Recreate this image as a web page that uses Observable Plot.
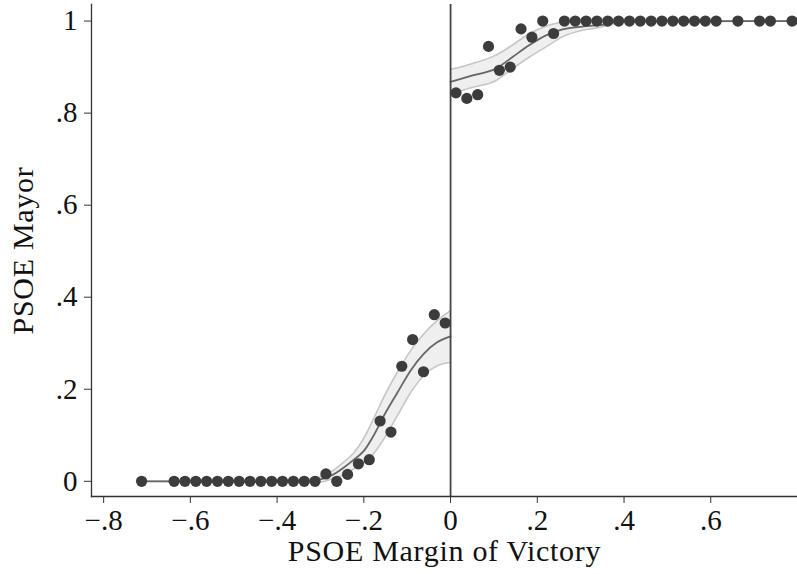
<!DOCTYPE html>
<html><head><meta charset="utf-8">
<script src="https://cdn.jsdelivr.net/npm/d3@7"></script>
<script src="https://cdn.jsdelivr.net/npm/@observablehq/plot@0.6"></script>
<style>html,body{margin:0;padding:0;background:#fff} svg{display:block}
g[aria-label="x-axis label"] text, g[aria-label="y-axis label"] text {letter-spacing: 0.7px; font-size: 30px;}
</style>
</head><body><div id="chart"></div>
<script>
// Binned means (bin midpoints on margin of victory)
const binX = [-0.7125, -0.6375, -0.6125, -0.5875, -0.5625, -0.5375, -0.5125, -0.4875, -0.4625, -0.4375, -0.4125, -0.3875, -0.3625, -0.3375, -0.3125,
  -0.2875, -0.2625, -0.2375, -0.2125, -0.1875, -0.1625, -0.1375, -0.1125, -0.0875, -0.0625, -0.0375, -0.0125,
  0.0125, 0.0375, 0.0625, 0.0875, 0.1125, 0.1375, 0.1625, 0.1875, 0.2125, 0.2375,
  0.2625, 0.2875, 0.3125, 0.3375, 0.3625, 0.3875, 0.4125, 0.4375, 0.4625, 0.4875, 0.5125, 0.5375, 0.5625, 0.5875, 0.6125, 0.6625, 0.7125, 0.7375, 0.7875];
const binY = [0, 0, 0, 0, 0, 0, 0, 0, 0, 0, 0, 0, 0, 0, 0,
  0.016, 0, 0.015, 0.038, 0.047, 0.131, 0.107, 0.250, 0.308, 0.238, 0.362, 0.344,
  0.844, 0.832, 0.840, 0.945, 0.893, 0.900, 0.983, 0.965, 1.0, 0.973,
  1, 1, 1, 1, 1, 1, 1, 1, 1, 1, 1, 1, 1, 1, 1, 1, 1, 1, 1];

// Local polynomial fit, left of cutoff
const leftFitX  = [-0.7125, -0.40, -0.33, -0.30, -0.27, -0.246, -0.223, -0.200, -0.177, -0.154, -0.123, -0.092, -0.062, -0.031, 0];
const leftFitY  = [0, 0, 0, 0.004, 0.015, 0.030, 0.047, 0.066, 0.100, 0.142, 0.192, 0.241, 0.277, 0.302, 0.315];
const leftHi    = [0, 0.002, 0.004, 0.010, 0.024, 0.042, 0.062, 0.094, 0.137, 0.183, 0.237, 0.284, 0.320, 0.349, 0.371];
const leftLo    = [0, -0.002, -0.004, -0.002, 0.006, 0.015, 0.027, 0.040, 0.061, 0.092, 0.142, 0.193, 0.230, 0.251, 0.258];

// Local polynomial fit, right of cutoff
const rightFitX = [0, 0.051, 0.105, 0.143, 0.182, 0.220, 0.258, 0.304, 0.343, 0.40, 0.7875];
const rightFitY = [0.868, 0.882, 0.897, 0.922, 0.948, 0.969, 0.982, 0.988, 0.991, 1.0, 1.0];
const rightHi   = [0.895, 0.908, 0.926, 0.948, 0.973, 0.989, 0.998, 1.003, 1.003, 1.001, 1.0];
const rightLo   = [0.842, 0.856, 0.871, 0.897, 0.922, 0.944, 0.966, 0.980, 0.986, 0.998, 1.0];

const xTicks = [-0.8, -0.6, -0.4, -0.2, 0, 0.2, 0.4, 0.6];
const xTickLabels = ["−.8", "−.6", "−.4", "−.2", "0", ".2", ".4", ".6"];
const yTicks = [0, 0.2, 0.4, 0.6, 0.8, 1];
const yTickLabels = ["0", ".2", ".4", ".6", ".8", "1"];

const points = binX.map((x, i) => ({x, y: binY[i]}));
const left = leftFitX.map((x, i) => ({x, y: leftFitY[i], hi: leftHi[i], lo: leftLo[i]}));
const right = rightFitX.map((x, i) => ({x, y: rightFitY[i], hi: rightHi[i], lo: rightLo[i]}));

const bandFill = "#efefef", bandEdge = "#c6c6c6", fitColor = "#666", dotColor = "#3c3c3c", axisColor = "#333";
const curve = "monotone-x";

function fitMarks(data) {
  return [
    Plot.areaY(data, {x: "x", y1: "lo", y2: "hi", fill: bandFill, curve}),
    Plot.lineY(data, {x: "x", y: "lo", stroke: bandEdge, strokeWidth: 1.6, curve}),
    Plot.lineY(data, {x: "x", y: "hi", stroke: bandEdge, strokeWidth: 1.6, curve}),
    Plot.lineY(data, {x: "x", y: "y", stroke: fitColor, strokeWidth: 1.8, curve})
  ];
}

const chart = Plot.plot({
  width: 797, height: 574,
  marginLeft: 91, marginRight: 0, marginTop: 4, marginBottom: 78,
  style: {fontFamily: "'Liberation Serif', 'Times New Roman', serif", fontSize: "29px", color: "#111", background: "#fff"},
  x: {domain: [-0.828, 0.8]},
  y: {domain: [-0.033, 1.036]},
  marks: [
    ...fitMarks(left),
    ...fitMarks(right),
    Plot.ruleX([0], {stroke: "#444", strokeWidth: 1.8}),
    Plot.dot(points, {x: "x", y: "y", r: 5.6, fill: dotColor, stroke: "none"}),
    Plot.frame({anchor: "left", stroke: axisColor, strokeWidth: 1.3}),
    Plot.frame({anchor: "bottom", stroke: axisColor, strokeWidth: 1.3}),
    Plot.axisX({ticks: xTicks, tickFormat: d => xTickLabels[xTicks.indexOf(d)], tickSize: 7, tickPadding: 6, stroke: axisColor,
      label: "PSOE Margin of Victory", labelAnchor: "center", labelArrow: "none", labelOffset: 64}),
    Plot.axisY({ticks: yTicks, tickFormat: d => yTickLabels[yTicks.indexOf(d)], tickSize: 7, tickPadding: 7, stroke: axisColor,
      label: "PSOE Mayor", labelAnchor: "center", labelArrow: "none", labelOffset: 80})
  ]
});
document.getElementById("chart").appendChild(chart);
</script>
</body></html>
